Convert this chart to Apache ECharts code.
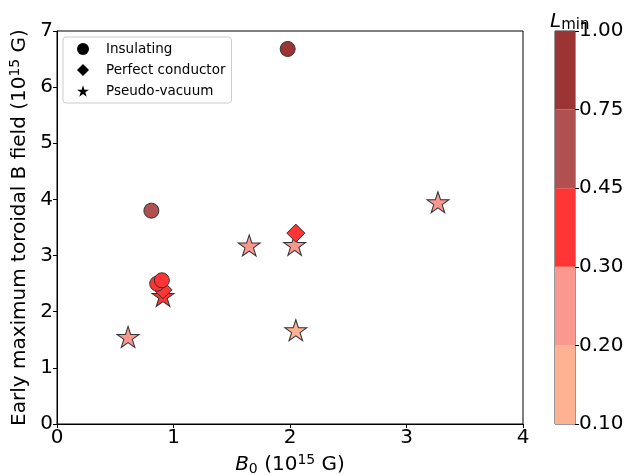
<!DOCTYPE html>
<html><head><meta charset="utf-8">
<script src="https://cdn.jsdelivr.net/npm/echarts@6/dist/echarts.min.js"></script>
<style>html,body{margin:0;padding:0;background:#fff}#c{width:630px;height:475px}</style>
</head><body><div id="c"></div>
<script>
// Data
var insX = [1.98, 0.81, 0.86, 0.90];
var insY = [6.68, 3.80, 2.50, 2.56];
var insL = [0.85, 0.60, 0.40, 0.40];

var pcX = [2.05, 0.91];
var pcY = [3.40, 2.39];
var pcL = [0.40, 0.40];

var pvX = [0.61, 1.65, 2.04, 2.05, 3.27, 0.91];
var pvY = [1.55, 3.18, 3.19, 1.67, 3.95, 2.28];
var pvL = [0.25, 0.25, 0.25, 0.15, 0.25, 0.40];

var cbBounds = ['0.10', '0.20', '0.30', '0.45', '0.75', '1.00'];
var cbColors = ['#ffb292', '#fa9890', '#ff3434', '#b05050', '#9c3434'];

var xTicks = [0, 1, 2, 3, 4];
var yTicks = [0, 1, 2, 3, 4, 5, 6, 7];

function colorFor(L) {
  for (var i = 0; i < cbColors.length; i++) {
    if (L <= parseFloat(cbBounds[i + 1])) return cbColors[i];
  }
  return cbColors[cbColors.length - 1];
}
function pts(xs, ys, ls) {
  return xs.map(function (x, i) {
    return { value: [x, ys[i]], itemStyle: { color: colorFor(ls[i]) } };
  });
}
var starPath = 'path://M0,-1L0.2245,-0.309L0.951,-0.309L0.363,0.118L0.588,0.809L0,0.382L-0.588,0.809L-0.363,0.118L-0.951,-0.309L-0.2245,-0.309Z';

var font = 'DejaVu Sans';
var FS = 20;
var ch = echarts.init(document.getElementById('c'));

var cbSeries = cbColors.map(function (c, i) {
  return {
    type: 'bar', xAxisIndex: 1, yAxisIndex: 1, stack: 'cb',
    data: [1], barWidth: '100%', barCategoryGap: 0, silent: true,
    itemStyle: { color: c }
  };
});

ch.setOption({
  animation: false,
  textStyle: { fontFamily: font },
  title: {
    text: '{i|L}{s|min}', left: 545, top: 5,
    textStyle: {
      fontWeight: 'normal',
      rich: {
        i: { fontFamily: font, fontStyle: 'italic', fontWeight: 'normal', fontSize: 20, color: '#000' },
        s: { fontFamily: font, fontWeight: 'normal', fontSize: 15, color: '#000', padding: [8, 0, 0, 0] }
      }
    }
  },
  legend: {
    orient: 'vertical', left: 63, top: 37,
    data: [
      { name: 'Insulating', icon: 'circle' },
      { name: 'Perfect conductor', icon: 'diamond' },
      { name: 'Pseudo-vacuum', icon: starPath }
    ],
    itemWidth: 12, itemHeight: 12, itemGap: 7,
    padding: [5, 6, 5, 14],
    borderColor: '#ccc', borderWidth: 1, borderRadius: 3,
    itemStyle: { color: '#000', borderWidth: 0 },
    textStyle: { fontSize: 13.5, color: '#000', fontFamily: font, padding: [0, 0, 0, 12] },
    backgroundColor: '#fff'
  },
  grid: [
    { left: 57, right: 107, top: 31, bottom: 51, show: true, borderColor: '#000', borderWidth: 1, backgroundColor: 'transparent', containLabel: false, outerBoundsMode: 'none' },
    { left: 555, width: 20, top: 31, bottom: 51, show: true, borderColor: '#333', borderWidth: 1, containLabel: false, outerBoundsMode: 'none' }
  ],
  xAxis: [
    {
      type: 'value', gridIndex: 0, min: 0, max: 4, interval: 1,
      axisLine: { show: true, onZero: false, lineStyle: { color: '#000' } },
      axisTick: { show: true, length: 4, lineStyle: { color: '#000' } },
      splitLine: { show: false },
      axisLabel: { fontSize: FS, color: '#000', margin: 4, fontFamily: font },
      name: '{i|B}{s|0} (10{p|15} G)', nameLocation: 'middle', nameGap: 28,
      nameTextStyle: {
        fontSize: FS, color: '#000', fontFamily: font,
        rich: {
          i: { fontStyle: 'italic', fontSize: FS, fontFamily: font, color: '#000' },
          s: { fontSize: 14, fontFamily: font, color: '#000', padding: [9, 0, 0, 0] },
          p: { fontSize: 14, fontFamily: font, color: '#000', padding: [0, 0, 9, 0] }
        }
      }
    },
    {
      type: 'category', gridIndex: 1, data: ['cb'], show: false
    }
  ],
  yAxis: [
    {
      type: 'value', gridIndex: 0, min: 0, max: 7, interval: 1,
      axisLine: { show: true, onZero: false, lineStyle: { color: '#000' } },
      axisTick: { show: true, length: 4, lineStyle: { color: '#000' } },
      splitLine: { show: false },
      axisLabel: { fontSize: FS, color: '#000', margin: 4, fontFamily: font },
      name: 'Early maximum toroidal B field (10{p|15} G)', nameLocation: 'middle', nameGap: 22,
      nameTextStyle: {
        fontSize: FS, color: '#000', fontFamily: font,
        rich: {
          p: { fontSize: 14, fontFamily: font, color: '#000', padding: [0, 0, 9, 0] }
        }
      }
    },
    {
      type: 'value', gridIndex: 1, min: 0, max: 5, interval: 1, position: 'right',
      axisLine: { show: false },
      axisTick: { show: true, length: 4, lineStyle: { color: '#000' } },
      splitLine: { show: false },
      axisLabel: {
        fontSize: FS, color: '#000', margin: 4, fontFamily: font,
        formatter: function (v) { return cbBounds[Math.round(v)]; }
      }
    }
  ],
  series: [
    {
      name: 'Pseudo-vacuum', type: 'scatter', xAxisIndex: 0, yAxisIndex: 0,
      symbol: starPath, symbolSize: [22, 21], z: 2,
      itemStyle: { color: '#000', borderColor: '#333', borderWidth: 1, opacity: 1 },
      data: pts(pvX, pvY, pvL)
    },
    {
      name: 'Perfect conductor', type: 'scatter', xAxisIndex: 0, yAxisIndex: 0,
      symbol: 'diamond', symbolSize: 18, z: 3,
      itemStyle: { color: '#000', borderColor: '#333', borderWidth: 1, opacity: 1 },
      data: pts(pcX, pcY, pcL)
    },
    {
      name: 'Insulating', type: 'scatter', xAxisIndex: 0, yAxisIndex: 0,
      symbol: 'circle', symbolSize: 15, z: 4,
      itemStyle: { color: '#000', borderColor: '#333', borderWidth: 1, opacity: 1 },
      data: pts(insX, insY, insL)
    }
  ].concat(cbSeries)
});
</script>
</body></html>
